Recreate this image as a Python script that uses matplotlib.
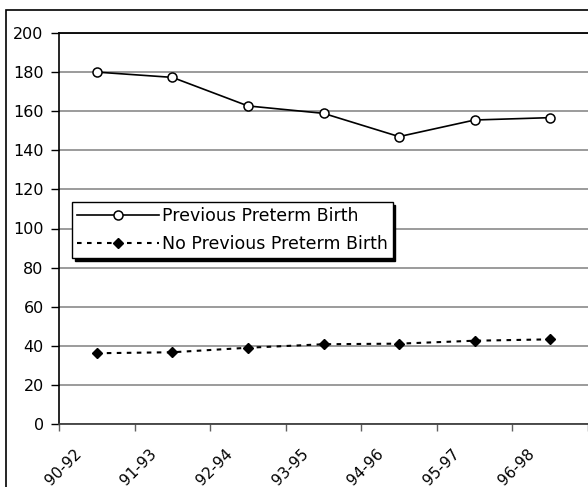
import matplotlib
matplotlib.use("Agg")
import matplotlib.pyplot as plt
import matplotlib.patches as mpatches
import matplotlib.transforms as mtransforms
import numpy as np

plt.rcParams['font.family'] = ['DejaVu Sans']

periods = ["90-92", "91-93", "92-94", "93-95", "94-96", "95-97", "96-98"]
previous_preterm = [180.0, 177.3, 162.7, 158.9, 147.0, 155.5, 156.7]
no_previous_preterm = [36.2, 36.7, 39.0, 40.8, 41.1, 42.6, 43.3]
y_ticks = list(range(0, 201, 20))

fig = plt.figure(figsize=(5.88, 4.87), dpi=100)
ax = fig.add_axes([59 / 588, 63 / 487, 529 / 588, 391 / 487])

# outer chart border, only its top and left edges fall inside the canvas
fig.patches.append(mpatches.Rectangle((6 / 588, -0.1), 1.2, (477 / 487) + 0.1,
                                      transform=fig.transFigure, fill=False,
                                      edgecolor="black", linewidth=1.2))

x = np.arange(len(periods))
ax.plot(x, previous_preterm, color="black", linewidth=1.2, marker="o",
        markersize=6.5, markerfacecolor="white", markeredgecolor="black",
        markeredgewidth=1.1, label="Previous Preterm Birth", zorder=3)
ax.plot(x, no_previous_preterm, color="black", linewidth=1.5,
        linestyle=(0, (2.2, 2.6)), marker="D", markersize=5.5,
        markerfacecolor="black", markeredgecolor="black",
        label="No Previous Preterm Birth", zorder=3)

ax.set_xlim(-0.5, len(periods) - 0.5)
ax.set_ylim(0, 200)
ax.set_yticks(y_ticks)
ax.yaxis.grid(True, color="#808080", linewidth=1.1)
ax.set_axisbelow(True)

ax.set_xticks(x)
ax.set_xticks(np.arange(-0.5, len(periods)), minor=True)
ax.tick_params(axis="x", which="major", length=0, pad=0)
ax.tick_params(axis="x", which="minor", length=5, width=1, color="#606060",
               direction="out")
ax.tick_params(axis="y", length=6, width=1, direction="out", labelsize=11.5,
               pad=5)
ax.set_xticklabels(periods, rotation=45, ha="right", va="top",
                   rotation_mode="anchor", fontsize=11)
offset = mtransforms.ScaledTranslation(-0.23, -0.22, fig.dpi_scale_trans)
for lbl in ax.get_xticklabels():
    lbl.set_transform(lbl.get_transform() + offset)

ax.spines["right"].set_visible(False)
ax.spines["left"].set_linewidth(1.2)
ax.spines["top"].set_linewidth(1.3)
ax.spines["bottom"].set_color("#404040")
ax.spines["bottom"].set_linewidth(1.3)

leg = ax.legend(loc="upper left", bbox_to_anchor=(0.025, 0.568),
                fontsize=12.5, fancybox=False, shadow={"color": "black", "alpha": 1},
                framealpha=1, edgecolor="black", handlelength=4.7,
                borderpad=0.3, labelspacing=0.55, handletextpad=0.15,
                borderaxespad=0)
leg.get_frame().set_linewidth(1.0)

fig.savefig("out.png", dpi=100)
